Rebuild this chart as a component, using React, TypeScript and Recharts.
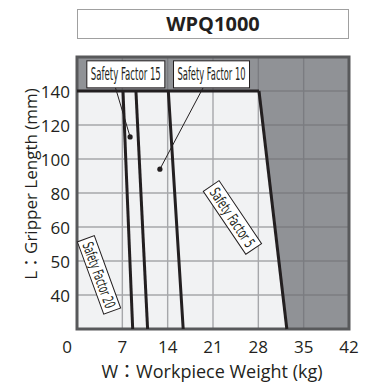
import React from "react";
import {
  ComposedChart,
  Line,
  Area,
  XAxis,
  YAxis,
  CartesianGrid,
  ReferenceDot,
  ReferenceArea,
} from "recharts";

// axis ticks
const weightTicks = [0, 7, 14, 21, 28, 35, 42];
const lengthTicks = [40, 50, 60, 80, 100, 120, 140];
// the L axis is stepped evenly per label, with one step below 40 and above 140
const lengthStops = [30, 40, 50, 60, 80, 100, 120, 140, 160];

// safety factor limit lines (w = kg, L = mm)
const capLine = [
  { w: 0, L: 140 },
  { w: 28.1, L: 140 },
];
const sf20 = [
  { w: 7.1, L: 140 },
  { w: 8.6, L: 30 },
];
const sf15 = [
  { w: 9.1, L: 140 },
  { w: 10.9, L: 30 },
];
const sf10 = [
  { w: 14.1, L: 140 },
  { w: 16.4, L: 30 },
];
const sf5 = [
  { w: 28.1, L: 140 },
  { w: 32.4, L: 30 },
];
// region outside the usable range (shaded)
const outside = [
  { w: 0, lo: 140, hi: 160 },
  { w: 28.1, lo: 140, hi: 160 },
  { w: 32.4, lo: 30, hi: 160 },
  { w: 42, lo: 30, hi: 160 },
];
// callout leaders
const leader15 = [
  { w: 5.7, L: 145 },
  { w: 8.2, L: 113 },
];
const leader10 = [
  { w: 19.9, L: 145 },
  { w: 12.8, L: 94 },
];
const tags = [
  { text: "Safety Factor 15", w: 7.54, L: 149.8, angle: 0, bw: 78, bh: 27 },
  { text: "Safety Factor 10", w: 20.77, L: 149.8, angle: 0, bw: 76, bh: 27 },
  { text: "Safety Factor 5", w: 24.0, L: 65.6, angle: 56, bw: 76, bh: 19 },
  { text: "Safety Factor 20", w: 3.4, L: 45.9, angle: 70, bw: 77, bh: 18 },
];

const INK = "#231f20";
const FONT = '"Open Sans", "Noto Sans CJK JP", sans-serif';
const NARROW = '"Liberation Sans Narrow", "DejaVu Sans Condensed", "Open Sans", sans-serif';

function pos(L: number) {
  for (let i = 0; i < lengthStops.length - 1; i++) {
    if (L <= lengthStops[i + 1]) {
      return i + (L - lengthStops[i]) / (lengthStops[i + 1] - lengthStops[i]);
    }
  }
  return lengthStops.length - 1;
}

const toXY = (arr: { w: number; L: number }[]) => arr.map((p) => ({ x: p.w, y: pos(p.L) }));

function XTick({ x, y, payload }: any) {
  const shift = payload.value === 0 ? -10 : 0;
  return (
    <text x={x + shift} y={y + 22} textAnchor="middle" fontSize={17} fill={INK} fontFamily={FONT}>
      {payload.value}
    </text>
  );
}

function YTick({ x, y, payload }: any) {
  return (
    <text x={x - 5} y={y + 7} textAnchor="end" fontSize={17} fill={INK} fontFamily={FONT}>
      {lengthTicks[payload.value - 1]}
    </text>
  );
}

function XLabel({ viewBox }: any) {
  return (
    <text
      x={viewBox.x + viewBox.width / 2 - 1}
      y={viewBox.y + 49}
      textAnchor="middle"
      fontSize={18}
      fill={INK}
      fontFamily={FONT}
    >
      W：Workpiece Weight (kg)
    </text>
  );
}

function YLabel({ viewBox }: any) {
  const cy = viewBox.y + viewBox.height / 2 - 9;
  return (
    <text
      transform={`translate(37,${cy}) rotate(-90)`}
      textAnchor="middle"
      fontSize={17}
      fill={INK}
      fontFamily={FONT}
    >
      L：Gripper Length (mm)
    </text>
  );
}

// condensed look: squeeze horizontally, then pin the exact width
const SQUEEZE = 0.7;

function Tag({ cx, cy, tag }: any) {
  const size = tag.bh > 20 ? 17 : 15;
  const tw = tag.bw - 8;
  return (
    <g transform={`translate(${cx},${cy}) rotate(${tag.angle})`}>
      <rect x={-tag.bw / 2} y={-tag.bh / 2} width={tag.bw} height={tag.bh} fill="#fff" stroke={INK} strokeWidth={1} />
      <g transform={`scale(${SQUEEZE},1)`}>
        <text
          x={0}
          y={size * 0.36}
          textAnchor="middle"
          fontSize={size}
          fill={INK}
          fontFamily={NARROW}
          textLength={tw / SQUEEZE}
          lengthAdjust="spacingAndGlyphs"
        >
          {tag.text}
        </text>
      </g>
    </g>
  );
}

const leaderDot = (props: any) =>
  props.index === 1 ? (
    <circle key={props.index} cx={props.cx} cy={props.cy} r={2.6} fill={INK} />
  ) : (
    <g key={props.index} />
  );

export default function App() {
  const lineProps = {
    type: "linear" as const,
    dataKey: "y",
    stroke: INK,
    strokeWidth: 3,
    dot: false,
    activeDot: false,
    isAnimationActive: false,
  };

  return (
    <div style={{ position: "absolute", left: 0, top: 0, width: 370, height: 385, background: "#fff" }}>
      <div
        style={{
          position: "absolute",
          left: 77,
          top: 9,
          width: 272,
          height: 30,
          boxSizing: "border-box",
          border: "1px solid #a0a0a0",
          textAlign: "center",
          lineHeight: "28px",
          fontFamily: FONT,
          fontWeight: 700,
          fontSize: 20,
          color: INK,
        }}
      >
        WPQ1000
      </div>
      <ComposedChart width={370} height={385} margin={{ top: 57, right: 21, bottom: 0, left: 0 }}>
        <CartesianGrid fill="#f1f2f3" stroke="#a6a7aa" strokeWidth={1.4} />
        <XAxis
          type="number"
          dataKey="x"
          domain={[0, 42]}
          ticks={weightTicks}
          height={56}
          axisLine={false}
          tickLine={false}
          tickSize={0}
          tick={<XTick />}
          label={<XLabel />}
        />
        <YAxis
          type="number"
          domain={[0, 8]}
          ticks={lengthTicks.map((_, i) => i + 1)}
          width={77}
          axisLine={false}
          tickLine={false}
          tickSize={0}
          tick={<YTick />}
          label={<YLabel />}
        />
        <Area
          data={outside.map((p) => ({ x: p.w, y: [pos(p.lo), pos(p.hi)] }))}
          type="linear"
          dataKey="y"
          stroke="none"
          fill="#6b6c71"
          fillOpacity={0.72}
          isAnimationActive={false}
        />
        <ReferenceArea x1={0} x2={42} y1={0} y2={8} fill="none" stroke="#58595b" strokeWidth={3} />
        <Line {...lineProps} data={toXY(capLine)} />
        <Line {...lineProps} data={toXY(sf20)} />
        <Line {...lineProps} data={toXY(sf15)} />
        <Line {...lineProps} data={toXY(sf10)} />
        <Line {...lineProps} data={toXY(sf5)} />
        <Line {...lineProps} data={toXY(leader15)} strokeWidth={1} dot={leaderDot} />
        <Line {...lineProps} data={toXY(leader10)} strokeWidth={1} dot={leaderDot} />
        {tags.map((t) => (
          <ReferenceDot
            key={t.text}
            x={t.w}
            y={pos(t.L)}
            r={1}
            shape={(p: any) => <Tag cx={p.cx} cy={p.cy} tag={t} />}
          />
        ))}
      </ComposedChart>
    </div>
  );
}
